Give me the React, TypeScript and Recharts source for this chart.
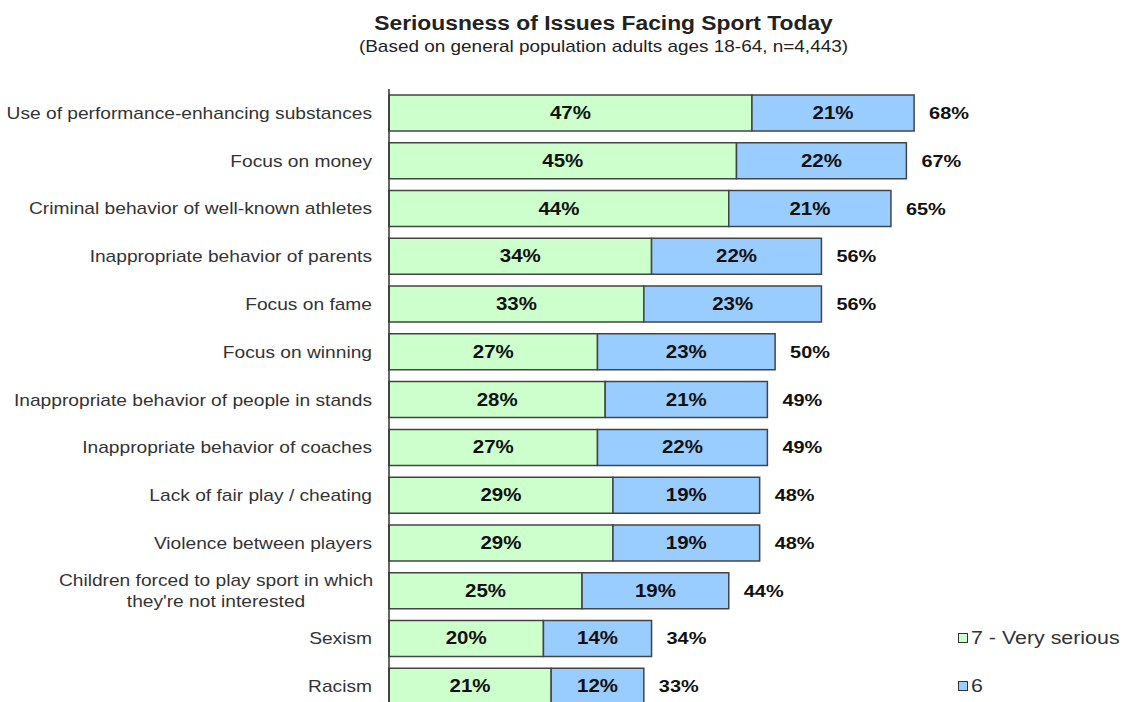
import { Bar, BarChart, LabelList, XAxis, YAxis } from "recharts";

const issues = [
  "Use of performance-enhancing substances",
  "Focus on money",
  "Criminal behavior of well-known athletes",
  "Inappropriate behavior of parents",
  "Focus on fame",
  "Focus on winning",
  "Inappropriate behavior of people in stands",
  "Inappropriate behavior of coaches",
  "Lack of fair play / cheating",
  "Violence between players",
  "Children forced to play sport in which they're not interested",
  "Sexism",
  "Racism",
];
const verySerious = [47, 45, 44, 34, 33, 27, 28, 27, 29, 29, 25, 20, 21];
const six = [21, 22, 21, 22, 23, 23, 21, 22, 19, 19, 19, 14, 12];
const totals = [68, 67, 65, 56, 56, 50, 49, 49, 48, 48, 44, 34, 33];

const legendItems = [
  { label: "7 - Very serious", color: "#ccffcc" },
  { label: "6", color: "#99ccff" },
];

const data = issues.map((issue, i) => ({
  issue,
  verySerious: verySerious[i],
  six: six[i],
  total: totals[i],
}));

const font = "'Liberation Sans', Arial, sans-serif";
// the original renders text a bit wide
const SX = 1.17;

function IssueTick({ x, y, payload }: any) {
  const text: string = payload.value;
  if (text.length > 45) {
    const first = "Children forced to play sport in which";
    const second = text.slice(first.length + 1);
    const cx = x - 9 - 156;
    return (
      <g transform={`translate(${cx},${y}) scale(${SX},1)`}>
        <text fontFamily={font} fontSize={16.4} fill="#333" textAnchor="middle">
          <tspan x={0} y={-5}>{first}</tspan>
          <tspan x={0} y={16}>{second}</tspan>
        </text>
      </g>
    );
  }
  return (
    <text
      transform={`translate(${x - 9},${y + 6}) scale(${SX},1)`}
      fontFamily={font}
      fontSize={16.4}
      fill="#333"
      textAnchor="end"
    >
      {text}
    </text>
  );
}

function CenterLabel({ x, y, width, height, value }: any) {
  return (
    <text
      transform={`translate(${x + width / 2},${y + height / 2 + 6}) scale(${SX},1)`}
      fontFamily={font}
      fontSize={17.5}
      fontWeight="bold"
      fill="#111"
      textAnchor="middle"
    >
      {value}%
    </text>
  );
}

function TotalLabel({ x, y, width, height, index }: any) {
  return (
    <text
      transform={`translate(${x + width + 15},${y + height / 2 + 6}) scale(${SX},1)`}
      fontFamily={font}
      fontSize={17}
      fontWeight="bold"
      fill="#111"
    >
      {totals[index]}%
    </text>
  );
}

export default function App() {
  return (
    <div
      style={{
        position: "absolute",
        left: 0,
        top: 0,
        width: 1123,
        height: 702,
        overflow: "hidden",
        background: "#fff",
      }}
    >
      <div
        style={{
          position: "absolute",
          left: 84,
          width: 1039,
          top: 11,
          textAlign: "center",
          fontFamily: font,
          color: "#222",
        }}
      >
        <div style={{ fontSize: 19.5, fontWeight: "bold", transform: `scaleX(${SX})`, lineHeight: "24px" }}>
          Seriousness of Issues Facing Sport Today
        </div>
        <div style={{ fontSize: 16.2, transform: `scaleX(${SX})`, lineHeight: "20px", marginTop: 1 }}>
          (Based on general population adults ages 18-64, n=4,443)
        </div>
      </div>
      <BarChart
        width={1123}
        height={720}
        data={data}
        layout="vertical"
        margin={{ top: 89, right: 39, bottom: 10, left: 0 }}
        barSize={36}
        style={{ position: "absolute", left: 0, top: 0 }}
      >
        <XAxis type="number" domain={[0, 90]} hide />
        <YAxis
          type="category"
          dataKey="issue"
          width={389}
          tickLine={false}
          axisLine={{ stroke: "#333", strokeWidth: 1.5 }}
          tick={<IssueTick />}
          interval={0}
        />
        <Bar
          dataKey="verySerious"
          stackId="a"
          fill="#ccffcc"
          stroke="#444"
          strokeWidth={1.5}
          isAnimationActive={false}
        >
          <LabelList dataKey="verySerious" content={<CenterLabel />} />
        </Bar>
        <Bar
          dataKey="six"
          stackId="a"
          fill="#99ccff"
          stroke="#444"
          strokeWidth={1.5}
          isAnimationActive={false}
        >
          <LabelList dataKey="six" content={<CenterLabel />} />
          <LabelList dataKey="total" content={<TotalLabel />} />
        </Bar>
      </BarChart>
      <div
        style={{
          position: "absolute",
          left: 958,
          top: 614,
          fontFamily: font,
          fontSize: 18.3,
          color: "#333",
        }}
      >
        {legendItems.map((it) => (
          <div key={it.label} style={{ display: "flex", alignItems: "center", height: 48 }}>
            <span
              style={{
                width: 8,
                height: 8,
                background: it.color,
                border: "1.5px solid #333",
                marginRight: 3,
                display: "inline-block",
              }}
            />
            <span style={{ display: "inline-block", transform: `scaleX(${SX})`, transformOrigin: "left" }}>
              {it.label}
            </span>
          </div>
        ))}
      </div>
    </div>
  );
}
